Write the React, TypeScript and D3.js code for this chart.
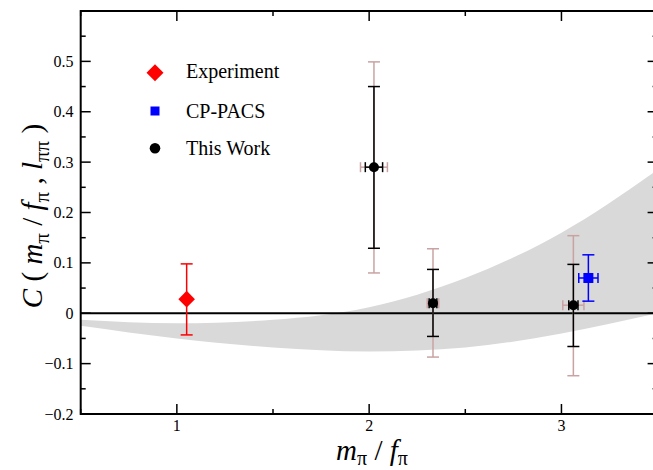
import React from "react";
import * as d3 from "d3";

// chart values
const xTickValues = [1, 2, 3];
const yTickValues = [-0.2, -0.1, 0, 0.1, 0.2, 0.3, 0.4, 0.5];
const xMinorValues = [0.5, 1.5, 2.5, 3.5];
const yMinorValues = [-0.15, -0.05, 0.05, 0.15, 0.25, 0.35, 0.45, 0.55];

// grey band
const bandX = [0.5, 1.0, 1.5, 2.0, 2.5, 3.0, 3.5];
const bandUpper = [-0.013, -0.02, -0.013, 0.012, 0.07, 0.16, 0.285];
const bandLower = [-0.025, -0.05, -0.068, -0.076, -0.068, -0.04, 0.0];

// Experiment
const expX = [1.051];
const expY = [0.028];
const expHi = [0.098];
const expLo = [-0.043];

// CP-PACS
const cpX = [3.14];
const cpY = [0.07];
const cpHi = [0.116];
const cpLo = [0.024];
const cpXErr = [0.05];

// This Work
const workX = [2.025, 2.332, 3.062];
const workY = [0.29, 0.02, 0.016];
const workStatHi = [0.45, 0.087, 0.097];
const workStatLo = [0.129, -0.046, -0.066];
const workSysHi = [0.499, 0.128, 0.154];
const workSysLo = [0.08, -0.087, -0.124];
const workXErrStat = [0.045, 0.02, 0.024];
const workXErrSys = [0.07, 0.03, 0.055];

const legendLabels = ["Experiment", "CP-PACS", "This Work"];

const W = 653;
const H = 470;
const margin = { left: 80.7, top: 11, right: 657.6, bottom: 414 };
const serif = "'Liberation Serif', 'Times New Roman', serif";
const pink = "#c9a3a3";

const x = d3.scaleLinear().domain([0.5, 3.5]).range([margin.left, margin.right]);
const y = d3.scaleLinear().domain([-0.2, 0.6]).range([margin.bottom, margin.top]);

const VBar = ({ cx, lo, hi, color, cap = 12, sw = 1.5 }: any) => (
  <g stroke={color} strokeWidth={sw} fill="none">
    <line x1={x(cx)} x2={x(cx)} y1={y(lo)} y2={y(hi)} />
    <line x1={x(cx) - cap / 2} x2={x(cx) + cap / 2} y1={y(lo)} y2={y(lo)} />
    <line x1={x(cx) - cap / 2} x2={x(cx) + cap / 2} y1={y(hi)} y2={y(hi)} />
  </g>
);

const HBar = ({ cx, cy, err, color, cap = 10, sw = 1.5 }: any) => (
  <g stroke={color} strokeWidth={sw} fill="none">
    <line x1={x(cx - err)} x2={x(cx + err)} y1={y(cy)} y2={y(cy)} />
    <line x1={x(cx - err)} x2={x(cx - err)} y1={y(cy) - cap / 2} y2={y(cy) + cap / 2} />
    <line x1={x(cx + err)} x2={x(cx + err)} y1={y(cy) - cap / 2} y2={y(cy) + cap / 2} />
  </g>
);

const diamond = (cx: number, cy: number, r: number) =>
  `M${cx},${cy - r}L${cx + r},${cy}L${cx},${cy + r}L${cx - r},${cy}Z`;

export default function App() {
  const band = bandX.map((v, i) => ({ x: v, hi: bandUpper[i], lo: bandLower[i] }));
  const area = d3
    .area<any>()
    .x((d) => x(d.x))
    .y0((d) => y(d.lo))
    .y1((d) => y(d.hi))
    .curve(d3.curveMonotoneX);

  const majorLen = 10;
  const minorLen = 5;

  return (
    <svg
      width={W}
      height={H}
      style={{ position: "absolute", left: 0, top: 0, background: "#fff" }}
      fontFamily={serif}
    >
      <defs>
        <clipPath id="plot-clip">
          <rect x={margin.left} y={margin.top} width={margin.right - margin.left} height={margin.bottom - margin.top} />
        </clipPath>
      </defs>

      <path d={area(band) || ""} fill="#d9d9d9" clipPath="url(#plot-clip)" />

      {/* zero line */}
      <line x1={margin.left} x2={margin.right} y1={y(0)} y2={y(0)} stroke="#000" strokeWidth={1.8} />

      {/* ticks */}
      <g stroke="#000" strokeWidth={1.5}>
        {xTickValues.map((t) => (
          <g key={"xt" + t}>
            <line x1={x(t)} x2={x(t)} y1={margin.bottom} y2={margin.bottom - majorLen} />
            <line x1={x(t)} x2={x(t)} y1={margin.top} y2={margin.top + majorLen} />
          </g>
        ))}
        {xMinorValues.map((t) => (
          <g key={"xm" + t}>
            <line x1={x(t)} x2={x(t)} y1={margin.bottom} y2={margin.bottom - minorLen} />
            <line x1={x(t)} x2={x(t)} y1={margin.top} y2={margin.top + minorLen} />
          </g>
        ))}
        {yTickValues.map((t) => (
          <g key={"yt" + t}>
            <line x1={margin.left} x2={margin.left + majorLen} y1={y(t)} y2={y(t)} />
            <line x1={margin.right} x2={margin.right - majorLen} y1={y(t)} y2={y(t)} />
          </g>
        ))}
        {yMinorValues.map((t) => (
          <g key={"ym" + t}>
            <line x1={margin.left} x2={margin.left + minorLen} y1={y(t)} y2={y(t)} />
            <line x1={margin.right} x2={margin.right - minorLen} y1={y(t)} y2={y(t)} />
          </g>
        ))}
      </g>

      {/* frame */}
      <rect
        x={margin.left}
        y={margin.top}
        width={margin.right - margin.left}
        height={margin.bottom - margin.top}
        fill="none"
        stroke="#000"
        strokeWidth={2}
      />

      {/* tick labels */}
      <g fontSize={16} fill="#000">
        {xTickValues.map((t) => (
          <text key={"xl" + t} x={x(t)} y={431} textAnchor="middle">
            {t}
          </text>
        ))}
        {yTickValues.map((t) => (
          <text key={"yl" + t} x={73.5} y={y(t) + 5.5} textAnchor="end">
            {d3.format("")(+t.toFixed(1))}
          </text>
        ))}
      </g>

      {/* axis titles */}
      <text x={372} y={460} textAnchor="middle" fontSize={29}>
        <tspan fontStyle="italic">m</tspan>
        <tspan fontSize={20} dy={5}>π</tspan>
        <tspan dy={-5}> / </tspan>
        <tspan fontStyle="italic">f</tspan>
        <tspan fontSize={20} dy={5}>π</tspan>
      </text>
      <text transform="translate(42,216) rotate(-90)" textAnchor="middle" fontSize={29}>
        <tspan fontStyle="italic">C</tspan>
        <tspan> ( </tspan>
        <tspan fontStyle="italic">m</tspan>
        <tspan fontSize={21} dy={7}>π</tspan>
        <tspan dy={-7}> / </tspan>
        <tspan fontStyle="italic">f</tspan>
        <tspan fontSize={21} dy={7}>π</tspan>
        <tspan dy={-7}> , </tspan>
        <tspan fontStyle="italic">l</tspan>
        <tspan fontSize={21} dy={7}>ππ</tspan>
        <tspan dy={-7}> )</tspan>
      </text>

      {/* This Work: systematic (pink) then statistical (black) */}
      {workX.map((v, i) => (
        <g key={"ws" + i}>
          <VBar cx={v} lo={workSysLo[i]} hi={workSysHi[i]} color={pink} />
          <HBar cx={v} cy={workY[i]} err={workXErrSys[i]} color={pink} />
        </g>
      ))}
      {workX.map((v, i) => (
        <g key={"wb" + i}>
          <VBar cx={v} lo={workStatLo[i]} hi={workStatHi[i]} color="#000" />
          <HBar cx={v} cy={workY[i]} err={workXErrStat[i]} color="#000" />
          <circle cx={x(v)} cy={y(workY[i])} r={5} fill="#000" />
        </g>
      ))}

      {/* Experiment */}
      {expX.map((v, i) => (
        <g key={"e" + i}>
          <VBar cx={v} lo={expLo[i]} hi={expHi[i]} color="#ff0000" />
          <path d={diamond(x(v), y(expY[i]), 8.3)} fill="#ff0000" />
        </g>
      ))}

      {/* CP-PACS */}
      {cpX.map((v, i) => (
        <g key={"c" + i}>
          <VBar cx={v} lo={cpLo[i]} hi={cpHi[i]} color="#0000ff" />
          <HBar cx={v} cy={cpY[i]} err={cpXErr[i]} color="#0000ff" />
          <rect x={x(v) - 5} y={y(cpY[i]) - 5} width={10} height={10} fill="#0000ff" />
        </g>
      ))}

      {/* legend */}
      <g fontSize={20} fill="#000">
        <path d={diamond(155, 72.7, 8.5)} fill="#ff0000" />
        <text x={186} y={77.5}>{legendLabels[0]}</text>
        <rect x={150.5} y={106.5} width={9} height={9} fill="#0000ff" />
        <text x={186} y={118}>{legendLabels[1]}</text>
        <circle cx={155} cy={148.3} r={5.3} fill="#000" />
        <text x={186} y={155}>{legendLabels[2]}</text>
      </g>
    </svg>
  );
}
